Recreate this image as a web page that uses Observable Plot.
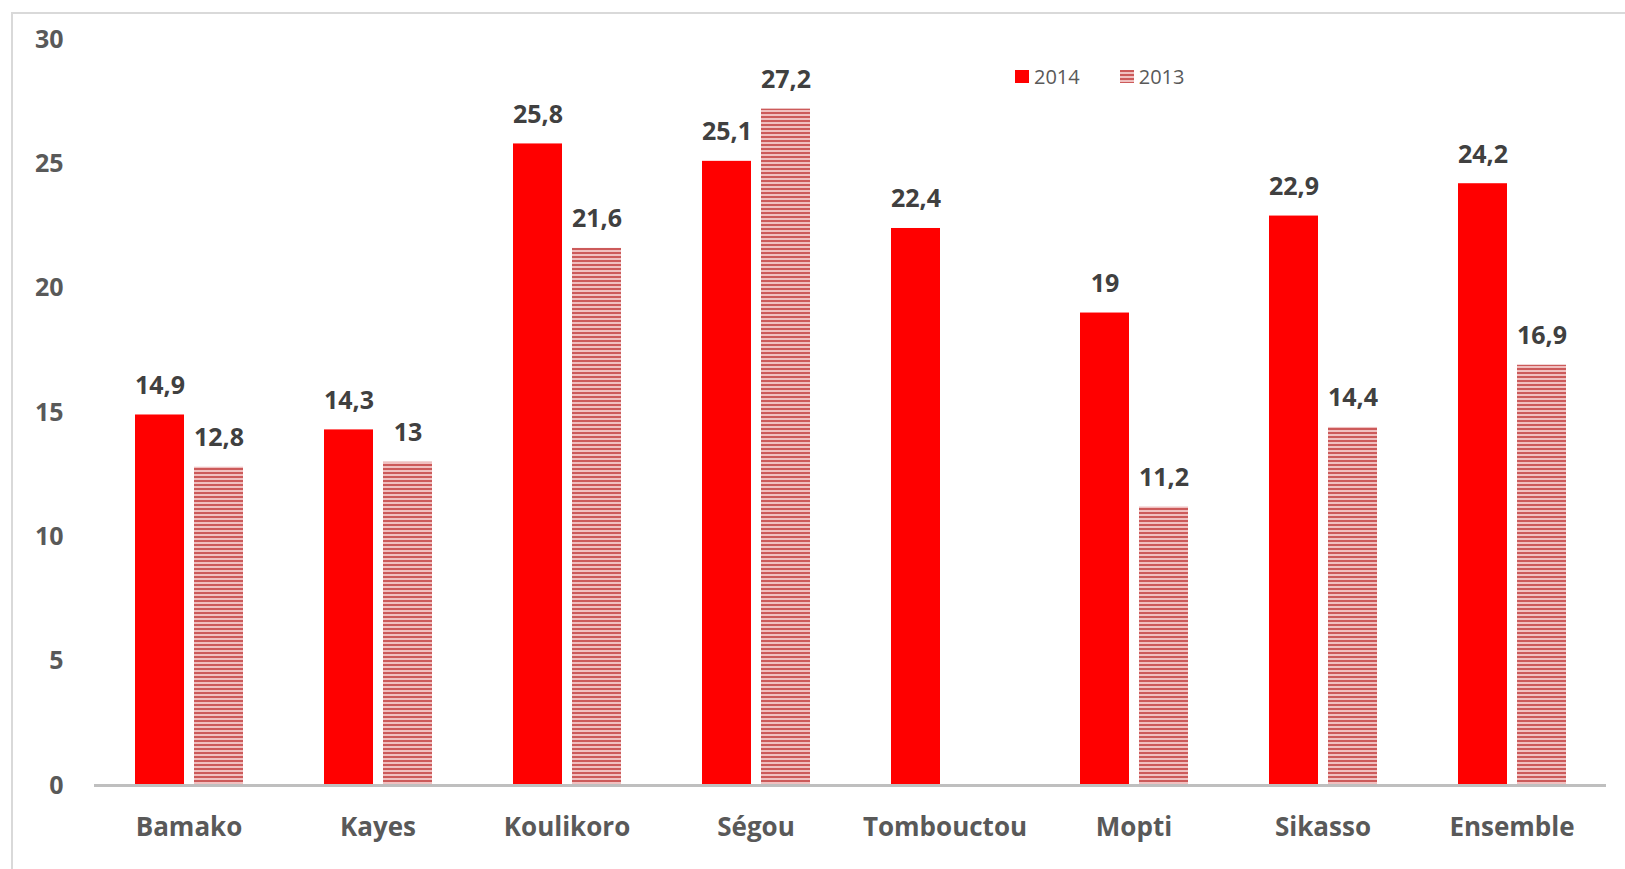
<!DOCTYPE html>
<html>
<head>
<meta charset="utf-8">
<script src="https://cdn.jsdelivr.net/npm/d3@7"></script>
<script src="https://cdn.jsdelivr.net/npm/@observablehq/plot@0.6"></script>
<style>
  html, body { margin: 0; padding: 0; background: #fff; }
  #wrap { position: relative; width: 1625px; height: 869px; overflow: hidden; font-family: "Open Sans", sans-serif; }
  #frame { position: absolute; left: 11px; top: 12px; right: -5px; bottom: -5px; border-top: 2px solid #d9d9d9; border-left: 2px solid #d9d9d9; }
  #chart { position: absolute; left: 0; top: 0; }
  #legend { position: absolute; left: 1015px; top: 63px; display: flex; align-items: center; font-size: 20px; color: #595959; }
  .sw { width: 14px; height: 13px; display: inline-block; margin-right: 5px; }
  .item { display: flex; align-items: center; margin-right: 40px; }
</style>
</head>
<body>
<div id="wrap">
  <div id="frame"></div>
  <div id="chart"></div>
  <div id="legend"></div>
</div>
<script>
const categories = ["Bamako", "Kayes", "Koulikoro", "Ségou", "Tombouctou", "Mopti", "Sikasso", "Ensemble"];
const years = ["2014", "2013"];
const values2014 = [14.9, 14.3, 25.8, 25.1, 22.4, 19, 22.9, 24.2];
const values2013 = [12.8, 13, 21.6, 27.2, null, 11.2, 14.4, 16.9];
const yTicks = [0, 5, 10, 15, 20, 25, 30];

const data = [];
categories.forEach((c, i) => {
  if (values2014[i] != null) data.push({region: c, year: "2014", value: values2014[i]});
  if (values2013[i] != null) data.push({region: c, year: "2013", value: values2013[i]});
});
const d2014 = data.filter(d => d.year === "2014");
const d2013 = data.filter(d => d.year === "2013");
const fmt = v => String(v).replace(".", ",");

const chart = Plot.plot({
  width: 1625,
  height: 869,
  marginLeft: 92,
  marginRight: 17,
  marginTop: 39,
  marginBottom: 84,
  style: {fontFamily: "'Open Sans', sans-serif", background: "transparent"},
  fx: {domain: categories, padding: 0, label: null},
  x: {domain: years, paddingInner: 0.17, paddingOuter: 0.68, axis: null},
  y: {domain: [0, 30], label: null},
  marks: [
    Plot.barY(d2014, {fx: "region", x: "year", y: "value", fill: "#ff0000"}),
    Plot.barY(d2013, {fx: "region", x: "year", y: "value", fill: "url(#hatch2013)"}),
    Plot.text(data, {fx: "region", x: "year", y: "value", text: d => fmt(d.value), dy: -21, lineAnchor: "bottom",
      fontSize: 25, fontWeight: "bold", fill: "#404040"}),
    Plot.axisY({ticks: yTicks, tickSize: 0, tickPadding: 31, fontSize: 25, fontWeight: "bold", color: "#595959", label: null}),
    Plot.axisFx({anchor: "bottom", tickSize: 0, tickPadding: 32, fontSize: 26, fontWeight: "bold", color: "#595959", label: null}),
    Plot.ruleY([0], {stroke: "#bfbfbf", strokeWidth: 3})
  ]
});

d3.select(chart).insert("defs", ":first-child").html(`
  <pattern id="hatch2013" patternUnits="userSpaceOnUse" width="4" height="4">
    <rect x="0" y="0" width="4" height="4" fill="#f0c0c0"></rect>
    <rect x="0" y="0" width="4" height="2" fill="#cc5a5a"></rect>
  </pattern>`);

document.getElementById("chart").appendChild(chart);

const legend = document.getElementById("legend");
[["2014", "background:#ff0000"], ["2013", "background:repeating-linear-gradient(to bottom,#cc5a5a 0 2px,#f0c0c0 2px 4px)"]].forEach(([t, bg]) => {
  const it = document.createElement("div");
  it.className = "item";
  it.innerHTML = `<span class="sw" style="${bg}"></span><span>${t}</span>`;
  legend.appendChild(it);
});
</script>
</body>
</html>
